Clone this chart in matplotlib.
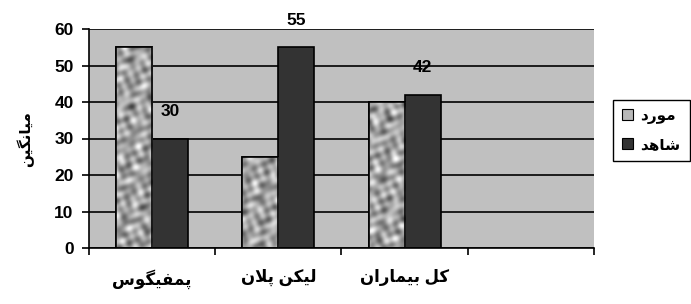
import numpy as np
import matplotlib
matplotlib.use("Agg")
from matplotlib import pyplot as plt
from matplotlib.patches import Patch

plt.rcParams['font.family'] = ['Liberation Sans', 'DejaVu Sans']
plt.rcParams['font.weight'] = 'bold'

# Persian labels, written as presentation forms in visual order
# (matplotlib does no Arabic shaping / bidi)
categories = ['\uFEB1\uFEEE\uFB95\uFBFF\uFED4\uFEE4\uFB58',                 # پمفیگوس
              '\uFEE5\uFEFC\uFB58 \uFEE6\uFB91\uFBFF\uFEDF',                # لیکن پلان
              '\uFEE5\uFE8D\uFEAD\uFE8E\uFEE4\uFBFF\uFE91 \uFEDE\uFB90']    # کل بیماران
series_names = ['\uFEA9\uFEAD\uFEEE\uFEE3',   # مورد
                '\uFEAA\uFEEB\uFE8E\uFEB7']   # شاهد
y_label = '\uFEE6\uFBFF\uFB95\uFEE7\uFE8E\uFBFF\uFEE3'   # میانگین

case_vals = [55, 25, 40]
control_vals = [30, 55, 42]
y_ticks = [0, 10, 20, 30, 40, 50, 60]

fig = plt.figure(figsize=(6.91, 3.04), dpi=100)
ax = fig.add_axes([89 / 691, 1 - 248 / 304, 505 / 691, 219 / 304])
ax.set_facecolor('#C0C0C0')

x = np.arange(len(categories))
w = 2 / 7
ax.set_xlim(-0.5, 3.5)
ax.set_ylim(0, 60)

case_bars = ax.bar(x - w / 2, case_vals, w, color='#B8B8B8', edgecolor='black', linewidth=1.2, zorder=2)
ctrl_bars = ax.bar(x + w / 2, control_vals, w, color='#333333', edgecolor='black', linewidth=1.2, zorder=2)

# mottled texture for the "case" bars (deterministic pattern, styling only)
py, px = np.mgrid[0:219, 0:505].astype(float)
tex = np.zeros_like(px)
for ang, per, ph in [(0.3, 13.7, 0.0), (1.4, 11.3, 1.1), (2.2, 17.9, 2.3),
                     (2.9, 9.4, 0.7), (0.9, 21.1, 1.9), (1.9, 15.2, 2.8),
                     (2.6, 10.3, 0.4), (0.05, 19.7, 1.3), (1.1, 8.6, 2.0)]:
    tex += np.cos(2 * np.pi * (px * np.cos(ang) + py * np.sin(ang)) / per + ph)
tex = tex / tex.std() * 0.5
for b in case_bars:
    im = ax.imshow(tex, cmap='gray', vmin=-2.9, vmax=1.65, extent=(-0.5, 3.5, 0, 60),
                   aspect='auto', interpolation='bilinear', zorder=2.1)
    im.set_clip_path(b)
    ax.bar(b.get_x() + b.get_width() / 2, b.get_height(), w, facecolor='none',
           edgecolor='black', linewidth=1.2, zorder=2.2)

for b, v in zip(ctrl_bars, control_vals):
    ax.annotate(str(v), (b.get_x() + b.get_width() / 2, v), xytext=(0, 19.5),
                textcoords='offset points', ha='center', va='center',
                fontsize=12.5, fontweight='bold', annotation_clip=False)

ax.set_axisbelow(True)
ax.yaxis.grid(True, color='black', linewidth=1.2)
ax.set_yticks(y_ticks)
ax.set_xticks(x)
ax.set_xticklabels(categories, fontsize=12, fontweight='bold')
ax.set_xticks([-0.5, 0.5, 1.5, 2.5, 3.5], minor=True)
ax.tick_params(axis='x', which='major', length=0, pad=15)
ax.tick_params(axis='x', which='minor', length=5, width=1.2, direction='out')
ax.tick_params(axis='y', length=5, width=1.2, direction='out', labelsize=12.5, pad=6)
for t in ax.get_yticklabels():
    t.set_fontweight('bold')
for s in ['top', 'right']:
    ax.spines[s].set_visible(False)
for s in ['left', 'bottom']:
    ax.spines[s].set_linewidth(1.2)

fig.text(25 / 691, 1 - 139 / 304, y_label, rotation=90, ha='center', va='center',
         fontsize=11, fontweight='bold')

handles = [Patch(facecolor='#B8B8B8', edgecolor='black', linewidth=0.8),
           Patch(facecolor='#333333', edgecolor='black', linewidth=0.8)]
leg = fig.legend(handles, series_names, loc='upper left',
                 bbox_to_anchor=(613 / 691, 1 - 100 / 304), fancybox=False,
                 edgecolor='black', framealpha=1, borderaxespad=0,
                 prop={'size': 11, 'weight': 'bold'}, handlelength=0.7,
                 handleheight=0.7, handletextpad=0.5, labelspacing=0.9,
                 borderpad=0.6)
leg.get_frame().set_linewidth(1.0)

fig.savefig('out.png', dpi=100)
